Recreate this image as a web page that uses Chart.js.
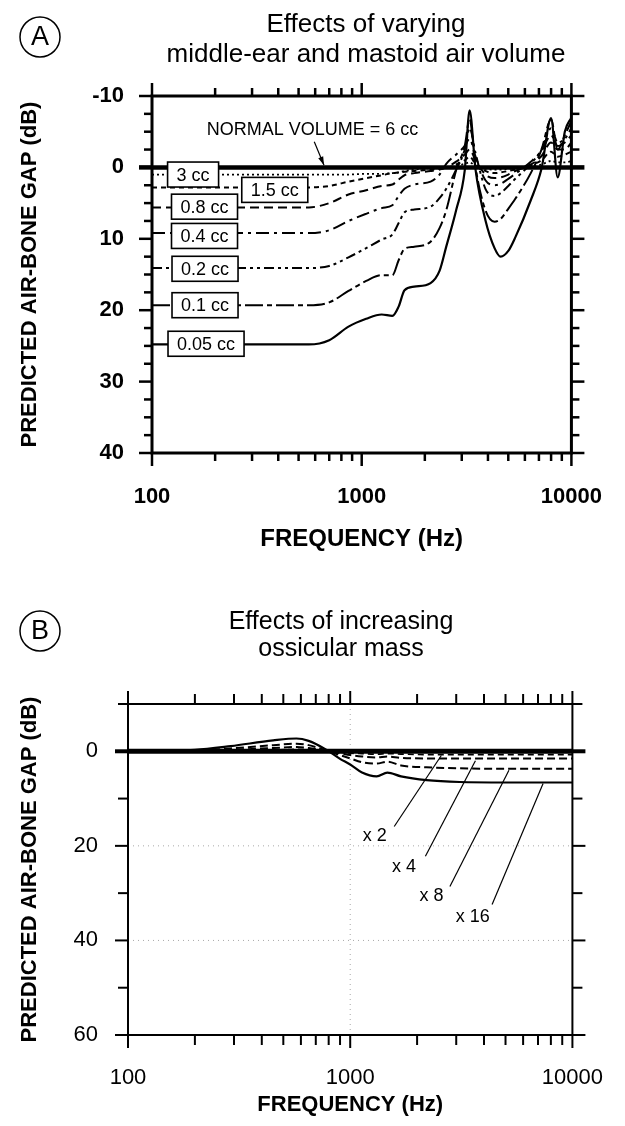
<!DOCTYPE html>
<html>
<head>
<meta charset="utf-8">
<script src="https://cdn.jsdelivr.net/npm/chart.js@4.4.1/dist/chart.umd.min.js"></script>
<style>
  html, body { margin: 0; padding: 0; background: #fff; }
  #wrap { position: relative; width: 625px; height: 1126px; }
  canvas { position: absolute; left: 0; }
  #cA { top: 0; }
  #cB { top: 563px; }
</style>
</head>
<body>
<div id="wrap">
  <canvas id="cA" width="625" height="563"></canvas>
  <canvas id="cB" width="625" height="563"></canvas>
</div>
<script>
/* ===== Panel A: middle-ear / mastoid air volume ===== */
const freqA = [100, 300, 560, 700, 865, 1050, 1245, 1400, 1500, 1600, 1780, 2130, 2350, 2530,
  2820, 3100, 3270, 3490, 3890, 4300, 4600, 5000, 5400, 6400, 7200, 8000, 8600, 9300, 10000];
const gap005 = [24.8, 24.8, 24.8, 24.2, 22.3, 21.2, 20.6, 20.8, 19.5, 17.2, 16.7, 16.2, 14.5, 11.1,
  6.0, 0.4, -8.0, 0.3, 7.4, 11.3, 12.5, 11.7, 9.8, 4.6, 0.2, -6.9, 1.4, -5.0, -7.0];
const gap01 = [19.3, 19.3, 19.3, 18.9, 17.3, 15.9, 15.1, 15.1, 13.0, 11.4, 11.1, 10.4, 8.5, 6.0,
  0.4, -3.0, -6.7, 0.0, 6.0, 7.6, 7.2, 5.8, 4.4, 0.8, -2.5, -6.7, -2.5, -4.5, -6.5];
const gap02 = [14.1, 14.1, 14.1, 13.8, 12.6, 11.3, 10.1, 9.4, 7.8, 6.3, 5.9, 5.5, 4.3, 3.0,
  0.3, -2.5, -5.5, -2.0, 3.0, 4.0, 3.6, 2.6, 1.6, -0.5, -2.5, -5.5, -3.5, -4.0, -5.5];
const gap04 = [9.2, 9.2, 9.2, 8.8, 7.5, 6.5, 5.7, 5.3, 4.0, 3.0, 2.4, 2.0, 1.0, -0.5,
  -1.8, -3.0, -4.0, -1.5, 1.8, 2.5, 2.3, 1.6, 0.9, -0.8, -2.3, -4.5, -3.0, -3.5, -4.5];
const gap08 = [5.6, 5.6, 5.6, 5.0, 3.8, 3.2, 2.6, 2.4, 1.7, 1.1, 0.8, 0.5, 0.3, 0.0,
  -0.8, -1.8, -2.5, -1.0, 1.0, 1.5, 1.4, 1.0, 0.5, -0.4, -1.6, -3.5, -2.5, -2.5, -3.5];
const gap15 = [2.8, 2.8, 2.8, 2.6, 2.0, 1.5, 1.1, 0.8, 0.7, 0.6, 0.5, 0.3, 0.2, 0.1,
  -0.4, -1.0, -1.5, -0.5, 0.5, 0.8, 0.7, 0.5, 0.3, -0.3, -1.0, -2.2, -1.5, -1.8, -2.2];
const gap3 = [1.0, 1.0, 1.0, 1.0, 1.0, 0.9, 0.9, 0.8, 0.7, 0.5, 0.3, 0.1, 0.0, 0.0,
  -0.2, -0.5, -0.7, -0.2, 0.2, 0.3, 0.3, 0.2, 0.1, -0.1, -0.4, -0.9, -0.7, -0.7, -0.9];
const freqFlat = [100, 10000];
const gap6 = [0, 0];

/* ===== Panel B: ossicular mass ===== */
const freqB = [100, 200, 290, 450, 573, 650, 776, 900, 1000, 1130, 1315, 1470, 1693, 2206, 3112, 5000, 10000];
const massX16 = [0, -0.3, -1.1, -2.3, -2.7, -2.2, -0.4, 1.6, 2.8, 4.5, 5.3, 4.5, 5.3, 6.1, 6.5, 6.6, 6.6];
const massX8 = [0, -0.2, -0.6, -1.3, -1.6, -1.3, -0.2, 0.8, 1.5, 2.3, 2.6, 2.2, 3.0, 3.4, 3.6, 3.7, 3.7];
const massX4 = [0, -0.1, -0.3, -0.7, -0.9, -0.7, -0.1, 0.4, 0.8, 1.1, 1.3, 1.1, 1.4, 1.5, 1.5, 1.5, 1.5];
const massX2 = [0, 0, -0.1, -0.3, -0.4, -0.3, 0, 0.2, 0.4, 0.5, 0.6, 0.5, 0.6, 0.7, 0.7, 0.7, 0.7];
const massX1 = [0, 0];

/* ===== tick positions ===== */
const freqLabels = [100, 1000, 10000];
const freqMinor = [200, 300, 400, 500, 600, 700, 800, 900, 2000, 3000, 4000, 5000, 6000, 7000, 8000, 9000];
const ticksA = [-10, 0, 10, 20, 30, 40];
const minorA = [-7.5, -5, -2.5, 2.5, 5, 7.5, 12.5, 15, 17.5, 22.5, 25, 27.5, 32.5, 35, 37.5];
const ticksB = [0, 20, 40, 60];
const minorB = [-10, 10, 30, 50];

const FONT = "'Liberation Sans', Arial, Helvetica, sans-serif";

function seg(ctx, x1, y1, x2, y2) {
  ctx.beginPath(); ctx.moveTo(x1, y1); ctx.lineTo(x2, y2); ctx.stroke();
}

/* marco + marcas de escala (menores / mayores) */
const framePlugin = {
  id: 'frame',
  beforeDatasetsDraw(chart, args, o) {
    const { ctx, chartArea: a, scales: { x, y } } = chart;
    ctx.save();
    ctx.strokeStyle = '#a8a8a8'; ctx.lineWidth = 1; ctx.setLineDash([1, 4]);
    (o.gridY || []).forEach(v => { const p = y.getPixelForValue(v); seg(ctx, a.left, p, a.right, p); });
    (o.gridX || []).forEach(v => { const p = x.getPixelForValue(v); seg(ctx, p, a.top, p, a.bottom); });
    ctx.restore();
  },
  afterDatasetsDraw(chart, args, o) {
    const { ctx, chartArea: a, scales: { x, y } } = chart;
    ctx.save();
    ctx.strokeStyle = '#000';
    ctx.lineWidth = o.width;
    ctx.strokeRect(a.left, a.top, a.right - a.left, a.bottom - a.top);
    ctx.lineWidth = o.tickWidth;
    o.yMinor.forEach(v => {
      const p = y.getPixelForValue(v);
      seg(ctx, a.left - o.minorLen, p, a.left, p);
      seg(ctx, a.right, p, a.right + o.minorLen, p);
    });
    o.yMajor.forEach(v => {
      const p = y.getPixelForValue(v);
      ctx.lineWidth = v === 0 ? o.zeroWidth : o.tickWidth;
      seg(ctx, a.left - o.majorLen, p, a.left, p);
      seg(ctx, a.right, p, a.right + o.majorLen, p);
    });
    ctx.lineWidth = o.tickWidth;
    o.xMinor.forEach(v => {
      const p = x.getPixelForValue(v);
      seg(ctx, p, a.top - o.minorLen, p, a.top);
      seg(ctx, p, a.bottom, p, a.bottom + o.minorLen);
    });
    o.xMajor.forEach(v => {
      const p = x.getPixelForValue(v);
      seg(ctx, p, a.top - o.majorLen, p, a.top);
      seg(ctx, p, a.bottom, p, a.bottom + o.majorLen);
    });
    ctx.restore();
  }
};

/* etiquetas en recuadro, textos, guías y encabezado del panel */
const notesPlugin = {
  id: 'notes',
  afterDatasetsDraw(chart, args, o) {
    const { ctx, scales: { x, y } } = chart;
    const px = f => x.getPixelForValue(f), py = d => y.getPixelForValue(d);
    ctx.save();
    ctx.strokeStyle = '#000'; ctx.fillStyle = '#000'; ctx.lineWidth = 1.2;
    (o.leaders || []).forEach(l => seg(ctx, px(l[0]), py(l[1]), px(l[2]), py(l[3])));
    (o.arrows || []).forEach(l => {
      const x1 = px(l[0]), y1 = py(l[1]), x2 = px(l[2]), y2 = py(l[3]);
      seg(ctx, x1, y1, x2, y2);
      const ang = Math.atan2(y2 - y1, x2 - x1);
      ctx.beginPath();
      ctx.moveTo(x2, y2);
      ctx.lineTo(x2 - 9 * Math.cos(ang - 0.3), y2 - 9 * Math.sin(ang - 0.3));
      ctx.lineTo(x2 - 9 * Math.cos(ang + 0.3), y2 - 9 * Math.sin(ang + 0.3));
      ctx.closePath(); ctx.fill();
    });
    ctx.font = `18px ${FONT}`;
    ctx.textAlign = 'center'; ctx.textBaseline = 'middle';
    (o.boxes || []).forEach(b => {
      const cx = px(b.f), cy = py(b.db);
      const w = ctx.measureText(b.text).width + 18, h = 25;
      ctx.fillStyle = '#fff'; ctx.fillRect(cx - w / 2, cy - h / 2, w, h);
      ctx.lineWidth = 1.6; ctx.strokeRect(cx - w / 2, cy - h / 2, w, h);
      ctx.fillStyle = '#000'; ctx.fillText(b.text, cx, cy + 1);
    });
    (o.texts || []).forEach(t => ctx.fillText(t.text, px(t.f), py(t.db)));
    ctx.restore();
  },
  afterDraw(chart, args, o) {
    const { ctx } = chart;
    const h = o.heading;
    if (!h) return;
    ctx.save();
    ctx.strokeStyle = '#000'; ctx.fillStyle = '#000'; ctx.lineWidth = 1.5;
    ctx.beginPath(); ctx.arc(h.cx, h.cy, 20, 0, Math.PI * 2); ctx.stroke();
    ctx.textAlign = 'center'; ctx.textBaseline = 'middle';
    ctx.font = `27px ${FONT}`;
    ctx.fillText(h.letter, h.cx, h.cy + 1);
    ctx.font = `${h.size}px ${FONT}`;
    h.lines.forEach((s, i) => ctx.fillText(s, h.tx, h.ty + i * h.gap));
    ctx.restore();
  }
};

function series(label, freqs, vals, style) {
  return Object.assign({
    label,
    data: freqs.map((f, i) => ({ x: f, y: vals[i] })),
    borderColor: '#000',
    backgroundColor: '#000',
    borderWidth: 2,
    pointRadius: 0,
    fill: false,
    cubicInterpolationMode: 'monotone'
  }, style);
}

function makeGapChart(id, { datasets, yMin, yMax, yTicks, bold, area, frame, notes }) {
  const tickFont = { family: FONT, size: 22, weight: bold ? 'bold' : 'normal' };
  return new Chart(document.getElementById(id), {
    type: 'line',
    data: { datasets },
    options: {
      responsive: false,
      animation: false,
      layout: { padding: { top: area.top, right: 625 - area.right, left: 0, bottom: 0 } },
      scales: {
        x: {
          type: 'logarithmic', min: 100, max: 10000,
          afterFit: s => { s.height = 563 - area.bottom; },
          afterBuildTicks: s => { s.ticks = freqLabels.map(v => ({ value: v })); },
          grid: { display: false }, border: { display: false },
          ticks: { autoSkip: false, maxRotation: 0, padding: area.xPad, color: '#000', font: tickFont,
            callback: v => String(v) },
          title: { display: true, text: 'FREQUENCY (Hz)', color: '#000',
            font: { family: FONT, size: area.xTitleSize, weight: 'bold' },
            padding: { top: 0, bottom: area.xTitle } }
        },
        y: {
          type: 'linear', reverse: true, min: yMin, max: yMax,
          afterFit: s => { s.width = area.left; },
          afterBuildTicks: s => { s.ticks = yTicks.map(v => ({ value: v })); },
          grid: { display: false }, border: { display: false },
          ticks: { padding: area.yPad, color: '#000', font: tickFont, callback: v => String(v) },
          title: { display: true, text: 'PREDICTED AIR-BONE GAP (dB)', color: '#000',
            font: { family: FONT, size: 22, weight: 'bold' },
            padding: { top: 17, bottom: 0 } }
        }
      },
      plugins: {
        legend: { display: false },
        tooltip: { enabled: false },
        frame,
        notes
      }
    },
    plugins: [framePlugin, notesPlugin]
  });
}

makeGapChart('cA', {
  yMin: -10, yMax: 40, yTicks: ticksA, bold: true,
  area: { left: 152, right: 581, top: 96, bottom: 453, xPad: 23, yPad: 20, xTitle: 9, xTitleSize: 24 },
  datasets: [
    series('6 cc', freqFlat, gap6, { borderWidth: 4.5 }),
    series('3 cc', freqA, gap3, { borderWidth: 1.8, borderDash: [2, 3] }),
    series('1.5 cc', freqA, gap15, { borderDash: [5, 4] }),
    series('0.8 cc', freqA, gap08, { borderDash: [9, 5] }),
    series('0.4 cc', freqA, gap04, { borderDash: [13, 5, 3, 5] }),
    series('0.2 cc', freqA, gap02, { borderDash: [10, 4, 3, 4, 3, 4] }),
    series('0.1 cc', freqA, gap01, { borderDash: [18, 4, 5, 4] }),
    series('0.05 cc', freqA, gap005, { borderWidth: 2.2 })
  ],
  frame: { width: 3, tickWidth: 2.5, zeroWidth: 4.5, minorLen: 8, majorLen: 13,
    yMinor: minorA, yMajor: ticksA, xMinor: freqMinor, xMajor: freqLabels },
  notes: {
    boxes: [
      { text: '3 cc', f: 157, db: 1.0 },
      { text: '1.5 cc', f: 385, db: 3.15 },
      { text: '0.8 cc', f: 178, db: 5.5 },
      { text: '0.4 cc', f: 178, db: 9.6 },
      { text: '0.2 cc', f: 179, db: 14.2 },
      { text: '0.1 cc', f: 179, db: 19.3 },
      { text: '0.05 cc', f: 181, db: 24.7 }
    ],
    texts: [{ text: 'NORMAL VOLUME = 6 cc', f: 582, db: -5.2 }],
    arrows: [[594, -3.6, 661, -0.3]],
    heading: { letter: 'A', cx: 40, cy: 37, tx: 366, ty: 25, gap: 30, size: 26,
      lines: ['Effects of varying', 'middle-ear and mastoid air volume'] }
  }
});

makeGapChart('cB', {
  yMin: -10, yMax: 60, yTicks: ticksB, bold: false,
  area: { left: 128, right: 582, top: 141, bottom: 472, xPad: 22, yPad: 22, xTitle: 8, xTitleSize: 22 },
  datasets: [
    series('x 1', freqFlat, massX1, { borderWidth: 5 }),
    series('x 2', freqB, massX2, { borderWidth: 1.6, borderDash: [6, 4] }),
    series('x 4', freqB, massX4, { borderDash: [8, 4] }),
    series('x 8', freqB, massX8, { borderDash: [8, 4] }),
    series('x 16', freqB, massX16, { borderWidth: 2.2 })
  ],
  frame: { width: 2, tickWidth: 2, zeroWidth: 4, minorLen: 10, majorLen: 13,
    yMinor: minorB, yMajor: ticksB, xMinor: freqMinor, xMajor: freqLabels,
    gridY: [20, 40], gridX: [1000] },
  notes: {
    leaders: [
      [1578, 15.9, 2570, 0.9],
      [2180, 22.2, 3660, 2.0],
      [2810, 28.6, 5180, 4.0],
      [4350, 32.4, 7380, 6.8]
    ],
    texts: [
      { text: 'x 2', f: 1290, db: 18 },
      { text: 'x 4', f: 1746, db: 24.4 },
      { text: 'x 8', f: 2320, db: 30.7 },
      { text: 'x 16', f: 3560, db: 35 }
    ],
    heading: { letter: 'B', cx: 40, cy: 68, tx: 341, ty: 59, gap: 27, size: 25,
      lines: ['Effects of increasing', 'ossicular mass'] }
  }
});
</script>
</body>
</html>
